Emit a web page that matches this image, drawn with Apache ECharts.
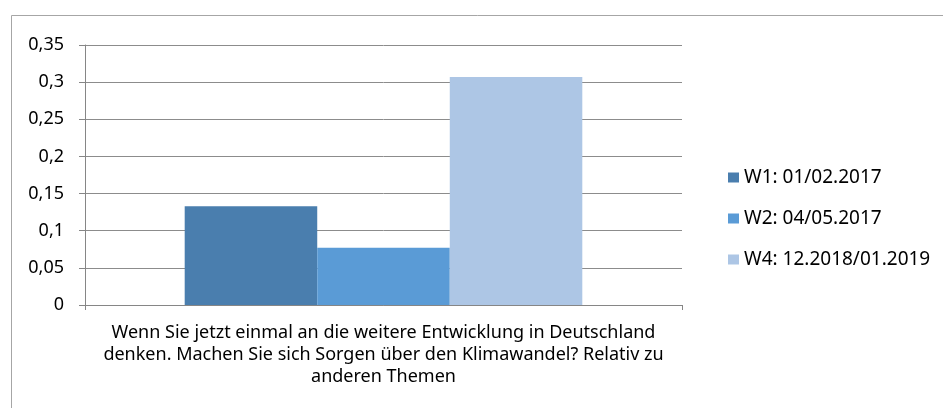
<!DOCTYPE html>
<html><head><meta charset="utf-8">
<script src="https://cdn.jsdelivr.net/npm/echarts@6/dist/echarts.min.js"></script>
<style>html,body{margin:0;padding:0;background:#fff}#c{width:943px;height:408px}</style>
</head><body><div id="c"></div>
<script>
const categories = ['Wenn Sie jetzt einmal an die weitere Entwicklung in Deutschland\ndenken. Machen Sie sich Sorgen über den Klimawandel? Relativ zu\nanderen Themen'];
const seriesNames = ['W1: 01/02.2017', 'W2: 04/05.2017', 'W4: 12.2018/01.2019'];
const w1 = [0.133];
const w2 = [0.077];
const w4 = [0.307];
const colors = ['#4A7EAE', '#5A9BD6', '#ADC6E5'];
const FONT = 'Noto Sans';
const chart = echarts.init(document.getElementById('c'));
const values = [w1, w2, w4];
chart.setOption({
  animation: false,
  textStyle: {fontFamily: FONT},
  graphic: [{type: 'rect', shape: {x: 11.5, y: 15.5, width: 1000, height: 500}, style: {fill: 'none', stroke: '#a6a6a6', lineWidth: 1}, silent: true}],
  grid: {left: 85, right: 261, top: 45, bottom: 103, containLabel: false},
  legend: {
    orient: 'vertical', left: 723, top: 163, itemGap: 22, itemWidth: 11, itemHeight: 10,
    icon: 'rect', textStyle: {fontFamily: FONT, fontSize: 19, color: '#000'},
    data: seriesNames
  },
  xAxis: {
    type: 'category', data: categories,
    axisLine: {lineStyle: {color: '#868686'}},
    axisTick: {show: true, alignWithLabel: false, length: 5, lineStyle: {color: '#868686'}},
    axisLabel: {fontFamily: FONT, fontSize: 18, color: '#000', lineHeight: 22, margin: 17, align: 'center'}
  },
  yAxis: {
    type: 'value', min: 0, max: 0.35, interval: 0.05,
    axisLine: {show: true, lineStyle: {color: '#868686'}},
    axisTick: {show: true, length: 6, lineStyle: {color: '#868686'}},
    splitLine: {lineStyle: {color: '#8c8c8c', width: 1}},
    axisLabel: {fontFamily: FONT, fontSize: 18, color: '#000', margin: 21,
      formatter: v => String(Math.round(v * 100) / 100).replace('.', ',')}
  },
  series: seriesNames.map((n, i) => ({
    name: n, type: 'bar', data: values[i], barGap: '0%', barCategoryGap: '33.4%',
    itemStyle: {color: colors[i]}
  }))
});
</script></body></html>
